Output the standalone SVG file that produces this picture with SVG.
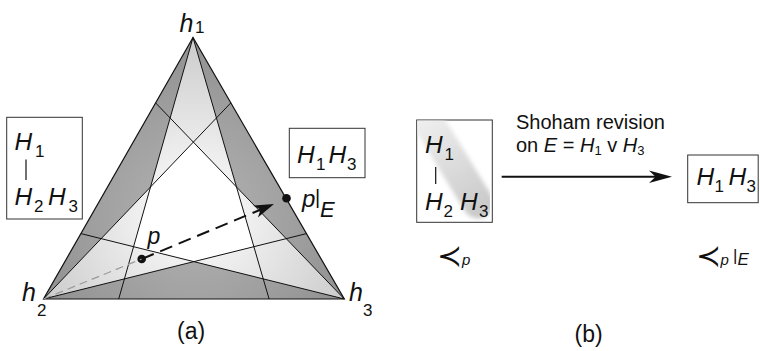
<svg xmlns="http://www.w3.org/2000/svg" width="760" height="351" viewBox="0 0 760 351">
<style>
.t{font-family:"Liberation Sans",Arial,Helvetica,sans-serif;fill:#111}
.i{font-style:italic}
.m{font-family:"DejaVu Sans","Liberation Sans",sans-serif;font-weight:200;fill:#111}
.box{fill:#fff;stroke:#333;stroke-width:1}
.ln{stroke:#111;stroke-width:1;fill:none}
.dot{fill:#111}
</style>
<defs>
<radialGradient id="gd" gradientUnits="userSpaceOnUse" cx="194" cy="212" r="175">
<stop offset="0" stop-color="#b4b4b4"/><stop offset="1" stop-color="#909090"/>
</radialGradient>
<radialGradient id="gl" gradientUnits="userSpaceOnUse" cx="194" cy="212" r="175">
<stop offset="0.3" stop-color="#f0f0f0"/><stop offset="1" stop-color="#cbcbcb"/>
</radialGradient>
<linearGradient id="band" gradientUnits="userSpaceOnUse" x1="420" y1="115" x2="485" y2="215">
<stop offset="0" stop-color="#f0f0f0"/><stop offset="0.5" stop-color="#dcdcdc"/><stop offset="1" stop-color="#c8c8c8"/>
</linearGradient>
<clipPath id="boxclip"><rect x="417.2" y="120.5" width="74.6" height="101.3"/></clipPath>
<filter id="soft" x="-20%" y="-20%" width="140%" height="140%"><feGaussianBlur stdDeviation="2.2"/></filter>
</defs>
<rect width="760" height="351" fill="#fff"/>

<g id="simplex">
<polygon points="193,37.5 43.5,299 344.3,299" fill="url(#gd)"/>
<polygon points="193,37.5 150.5,186.9 43.5,299 193.8,261.6 344.3,299 236.5,186.9" fill="url(#gl)"/>
<polygon points="193.4,142.1 150.5,186.9 133.6,246.7 193.8,261.6 253.9,246.7 236.5,186.9" fill="#fff"/>
<path class="ln" d="M193,37.5 L118.7,299 M193,37.5 L269.1,299 M43.5,299 L230.8,102.9 M43.5,299 L306.5,233.6 M344.3,299 L155.6,102.9 M344.3,299 L80.9,233.6"/>
<polygon points="193,37.5 43.5,299 344.3,299" fill="none" stroke="#111" stroke-width="1.2"/>
</g>

<g id="vertex-labels">
<text class="t" font-size="25"><tspan class="i" x="179.5" y="31.5">h</tspan><tspan font-size="17" x="195" y="33">1</tspan></text>
<text class="t" font-size="25"><tspan class="i" x="22" y="301">h</tspan><tspan font-size="17" x="37" y="316">2</tspan></text>
<text class="t" font-size="25"><tspan class="i" x="349" y="301">h</tspan><tspan font-size="17" x="363" y="316">3</tspan></text>
</g>

<g id="order-p-a">
<rect class="box" x="6.7" y="117.3" width="75.6" height="101.7"/>
<text class="t" font-size="24.5"><tspan class="i" x="14.5" y="150">H</tspan><tspan font-size="17" x="35" y="157">1</tspan></text>
<line x1="26" y1="159.5" x2="26" y2="180" stroke="#111" stroke-width="1.2"/>
<text class="t" font-size="24.5"><tspan class="i" x="14.5" y="205">H</tspan><tspan font-size="17" x="34" y="212">2</tspan><tspan class="i" x="48" y="205">H</tspan><tspan font-size="17" x="68.5" y="212">3</tspan></text>
</g>

<g id="order-pE-a">
<rect class="box" x="289.3" y="128.3" width="75.7" height="49.4"/>
<text class="t" font-size="24.5"><tspan class="i" x="297" y="162.7">H</tspan><tspan font-size="17" x="316" y="170">1</tspan><tspan class="i" x="328.5" y="162.7">H</tspan><tspan font-size="17" x="347" y="170">3</tspan></text>
</g>

<g id="point-p">
<circle class="dot" cx="141.7" cy="259" r="4.3"/>
<text class="t i" font-size="23" x="147.5" y="243.6">p</text>
</g>

<g id="point-pE">
<circle class="dot" cx="286.5" cy="198.3" r="4.3"/>
<text class="t" font-size="24"><tspan class="i" x="302" y="207">p</tspan><tspan font-size="20" x="315" y="203.5">|</tspan><tspan class="i" font-size="22" x="320" y="217.3">E</tspan></text>
</g>

<g id="connectors">
<line x1="43.5" y1="299" x2="141.7" y2="259" stroke="#9a9a9a" stroke-width="1.2" stroke-dasharray="8 5"/>
<line x1="141.7" y1="259" x2="261" y2="209.5" stroke="#111" stroke-width="2" stroke-dasharray="13 7"/>
<polygon points="274,204 253.2,205.6 260.6,209.6 257.9,217.6" fill="#111"/>
<line x1="501.7" y1="176.7" x2="658" y2="176.7" stroke="#111" stroke-width="2"/>
<polygon points="672,176.7 649,170.5 655.5,176.7 649,183" fill="#111"/>
</g>

<g id="revision-label">
<text class="t" font-size="20" x="516" y="128.5">Shoham revision</text>
<text class="t" font-size="20" x="516" y="151.7">on <tspan class="i">E</tspan> = <tspan class="i">H</tspan><tspan font-size="13" dy="3.5">1</tspan><tspan dy="-3.5"> v </tspan><tspan class="i">H</tspan><tspan font-size="13" dy="3.5">3</tspan></text>
</g>

<g id="order-p-b">
<rect class="box" x="416.7" y="120" width="75.6" height="102.3"/>
<g clip-path="url(#boxclip)">
<line x1="420" y1="108" x2="478" y2="203" stroke="url(#band)" stroke-width="31" stroke-linecap="round" filter="url(#soft)"/>
</g>
<text class="t" font-size="24.5"><tspan class="i" x="425" y="152.5">H</tspan><tspan font-size="17" x="444.5" y="160">1</tspan></text>
<line x1="435.7" y1="167" x2="435.7" y2="184" stroke="#111" stroke-width="1.2"/>
<text class="t" font-size="24.5"><tspan class="i" x="425" y="210">H</tspan><tspan font-size="17" x="443.5" y="216.5">2</tspan><tspan class="i" x="460" y="210">H</tspan><tspan font-size="17" x="479" y="216.5">3</tspan></text>
<text class="m" font-size="30" x="437" y="266">≺</text>
<text class="t i" font-size="15" x="462" y="265">p</text>
</g>

<g id="order-pE-b">
<rect class="box" x="687.7" y="155" width="70.5" height="47.7"/>
<text class="t" font-size="24.5"><tspan class="i" x="696.5" y="185">H</tspan><tspan font-size="17" x="714.5" y="192">1</tspan><tspan class="i" x="728.5" y="185">H</tspan><tspan font-size="17" x="746.5" y="192">3</tspan></text>
<text class="m" font-size="30" x="695.5" y="266">≺</text>
<text class="t" font-size="17"><tspan class="i" font-size="15" x="720.5" y="265">p</tspan><tspan x="733" y="260.5">|</tspan><tspan class="i" x="737.5" y="265">E</tspan></text>
</g>

<g id="captions">
<text class="t" font-size="23" x="177" y="338.5">(a)</text>
<text class="t" font-size="23" x="574.5" y="342">(b)</text>
</g>
</svg>
